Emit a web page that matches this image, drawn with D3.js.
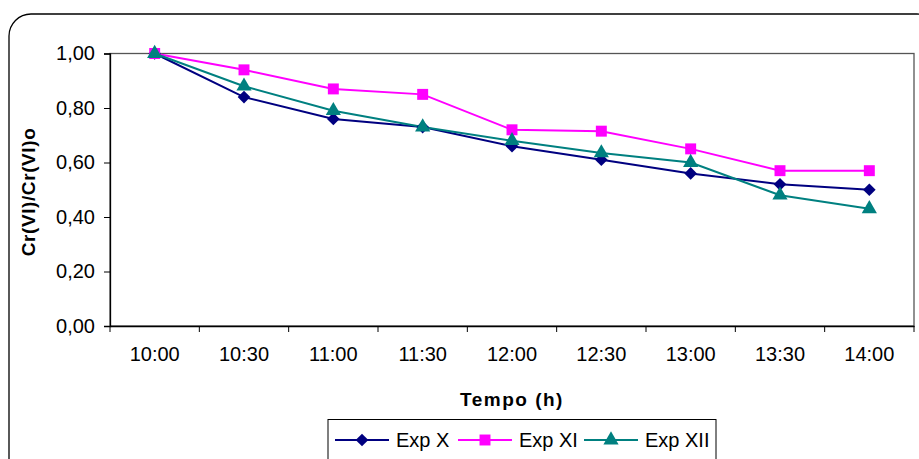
<!DOCTYPE html>
<html>
<head>
<meta charset="utf-8">
<script src="https://cdn.jsdelivr.net/npm/d3@7"></script>
<style>
  body { margin: 0; background: #fff; }
  text { font-family: "Liberation Sans", Arial, sans-serif; }
</style>
</head>
<body>
<svg id="chart"></svg>
<script>
// data
const horas = ["10:00", "10:30", "11:00", "11:30", "12:00", "12:30", "13:00", "13:30", "14:00"];
const expX   = [1.00, 0.84, 0.76, 0.73, 0.66, 0.61, 0.56, 0.52, 0.50];
const expXI  = [1.00, 0.94, 0.87, 0.85, 0.72, 0.715, 0.65, 0.57, 0.57];
const expXII = [1.00, 0.88, 0.79, 0.73, 0.68, 0.635, 0.60, 0.48, 0.43];
const yTicks = [0, 0.2, 0.4, 0.6, 0.8, 1.0];

// diamond as a rotated square, wider than d3's own
const diamond = {
  draw(ctx, size) {
    const r = Math.sqrt(size / 2);
    ctx.moveTo(0, -r); ctx.lineTo(r, 0); ctx.lineTo(0, r); ctx.lineTo(-r, 0); ctx.closePath();
  }
};

const series = [
  { name: "Exp X",   values: expX,   color: "#000080", symbol: diamond,          size: 80 },
  { name: "Exp XI",  values: expXI,  color: "#ff00ff", symbol: d3.symbolSquare,   size: 120 },
  { name: "Exp XII", values: expXII, color: "#008080", symbol: d3.symbolTriangle, size: 100 }
];

const w = 919, h = 459;
const plot = { left: 110, top: 53.5, right: 914, bottom: 326 };
const FONT = '"Liberation Sans", Arial, sans-serif';

const svg = d3.select('#chart').attr('width', w).attr('height', h);

// rounded frame round the whole chart (runs off right and bottom)
svg.append('rect')
  .attr('x', 9).attr('y', 14)
  .attr('width', 930).attr('height', 470)
  .attr('rx', 22)
  .attr('fill', 'none')
  .attr('stroke', '#000')
  .attr('stroke-width', 1.3);

const x = d3.scaleBand().domain(horas).range([plot.left, plot.right]);
const y = d3.scaleLinear().domain([0, 1]).range([plot.bottom, plot.top]);

// plot area border (top + right)
svg.append('rect')
  .attr('x', plot.left).attr('y', plot.top)
  .attr('width', plot.right - plot.left).attr('height', plot.bottom - plot.top)
  .attr('fill', 'none')
  .attr('stroke', '#555')
  .attr('stroke-width', 1.3);

const fmt = d => d3.format('.2f')(d).replace('.', ',');

// y axis
const yAxis = svg.append('g')
  .attr('transform', `translate(${plot.left},0)`)
  .call(d3.axisLeft(y).tickValues(yTicks).tickFormat(fmt).tickSize(6).tickPadding(9));
yAxis.select('.domain').attr('stroke', '#000').attr('stroke-width', 1.3);
yAxis.selectAll('.tick line').attr('stroke', '#000');
yAxis.selectAll('text').attr('font-size', 20).attr('fill', '#000').attr('font-family', FONT);

// x axis, ticks on band edges
const xAxis = svg.append('g')
  .attr('transform', `translate(0,${plot.bottom})`)
  .call(d3.axisBottom(x).tickSize(0).tickPadding(21));
xAxis.select('.domain').attr('stroke', '#000').attr('stroke-width', 1.3);
xAxis.selectAll('text').attr('font-size', 20).attr('fill', '#000').attr('font-family', FONT);

const edges = horas.map(d => x(d)).concat([plot.right]);
svg.append('g').selectAll('line').data(edges).join('line')
  .attr('x1', d => d).attr('x2', d => d)
  .attr('y1', plot.bottom).attr('y2', plot.bottom + 6)
  .attr('stroke', '#000');

// axis titles
svg.append('text')
  .attr('transform', `translate(35,192) rotate(-90)`)
  .attr('text-anchor', 'middle')
  .attr('font-size', 19).attr('font-weight', 'bold')
  .attr('letter-spacing', 0.6)
  .text('Cr(VI)/Cr(VI)o');

svg.append('text')
  .attr('x', 512).attr('y', 406)
  .attr('text-anchor', 'middle')
  .attr('font-size', 19).attr('font-weight', 'bold')
  .attr('letter-spacing', 1.5)
  .text('Tempo (h)');

// lines + markers
const cx = d => x(d) + x.bandwidth() / 2;
const line = d3.line().x((v, i) => cx(horas[i])).y(v => y(v));

series.forEach(s => {
  svg.append('path')
    .datum(s.values)
    .attr('d', line)
    .attr('fill', 'none')
    .attr('stroke', s.color)
    .attr('stroke-width', 2);
});

series.forEach(s => {
  svg.append('g').selectAll('path').data(s.values).join('path')
    .attr('transform', (v, i) => `translate(${cx(horas[i])},${y(v)})`)
    .attr('d', d3.symbol().type(s.symbol).size(s.size))
    .attr('fill', s.color);
});

// legend
const leg = { x: 328, y: 419.5, w: 388, h: 50 };
svg.append('rect')
  .attr('x', leg.x).attr('y', leg.y).attr('width', leg.w).attr('height', leg.h)
  .attr('fill', '#fff').attr('stroke', '#000').attr('stroke-width', 1);

const legX = [335, 458, 584];
series.forEach((s, i) => {
  const g = svg.append('g').attr('transform', `translate(${legX[i]},440)`);
  g.append('line').attr('x1', 0).attr('x2', 54).attr('stroke', s.color).attr('stroke-width', 2);
  g.append('path').attr('transform', 'translate(27,0)')
    .attr('d', d3.symbol().type(s.symbol).size(s.size)).attr('fill', s.color);
  g.append('text').attr('x', 61).attr('y', 7)
    .attr('font-size', 20).text(s.name);
});
</script>
</body>
</html>
